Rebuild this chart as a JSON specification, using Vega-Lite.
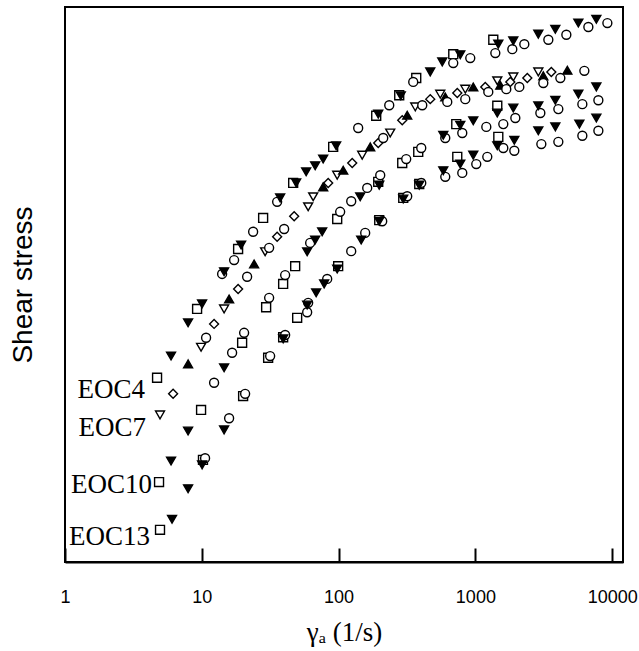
{
  "$schema": "https://vega.github.io/schema/vega-lite/v6.json",
  "width": 558,
  "height": 555,
  "autosize": "none",
  "padding": {"left": 65, "top": 7, "right": 16, "bottom": 89},
  "background": "white",
  "config": {"view": {"stroke": "black", "strokeWidth": 2}},
  "datasets": {
    "pts": [
      {"g":"EOC4","m":"sq","x":4.71,"y":33.2},{"g":"EOC4","m":"sq","x":9.24,"y":45.6},{"g":"EOC4","m":"sq","x":18.43,"y":56.4},{"g":"EOC4","m":"sq","x":28.08,"y":62.0},{"g":"EOC4","m":"sq","x":46.56,"y":68.3},{"g":"EOC4","m":"sq","x":91.3,"y":74.8},{"g":"EOC4","m":"sq","x":188.4,"y":80.4},{"g":"EOC4","m":"sq","x":277.5,"y":84.1},{"g":"EOC4","m":"sq","x":369.6,"y":87.2},{"g":"EOC4","m":"sq","x":689.2,"y":91.5},{"g":"EOC4","m":"sq","x":1352,"y":94.1},
      {"g":"EOC4","m":"circ","x":14.08,"y":51.9},{"g":"EOC4","m":"circ","x":17.23,"y":54.4},{"g":"EOC4","m":"circ","x":23.73,"y":59.5},{"g":"EOC4","m":"circ","x":35.55,"y":64.9},{"g":"EOC4","m":"circ","x":139.1,"y":78.2},{"g":"EOC4","m":"circ","x":234.6,"y":82.3},{"g":"EOC4","m":"circ","x":351.3,"y":86.5},{"g":"EOC4","m":"circ","x":689,"y":89.9},{"g":"EOC4","m":"circ","x":917.6,"y":90.8},{"g":"EOC4","m":"circ","x":1399,"y":91.7},{"g":"EOC4","m":"circ","x":1862,"y":92.4},{"g":"EOC4","m":"circ","x":2279,"y":93.3},{"g":"EOC4","m":"circ","x":3415,"y":94.1},{"g":"EOC4","m":"circ","x":4624,"y":95.0},{"g":"EOC4","m":"circ","x":6698,"y":96.4},{"g":"EOC4","m":"circ","x":9224,"y":97.1},
      {"g":"EOC4","m":"tri","x":5.96,"y":37.1},{"g":"EOC4","m":"tri","x":7.94,"y":43.1},{"g":"EOC4","m":"tri","x":10.05,"y":46.5},{"g":"EOC4","m":"tri","x":14.56,"y":52.3},{"g":"EOC4","m":"tri","x":19.39,"y":57.1},{"g":"EOC4","m":"tri","x":37.4,"y":65.6},{"g":"EOC4","m":"tri","x":48.97,"y":68.3},{"g":"EOC4","m":"tri","x":57.94,"y":70.3},{"g":"EOC4","m":"tri","x":67.43,"y":71.4},{"g":"EOC4","m":"tri","x":77.15,"y":72.6},{"g":"EOC4","m":"tri","x":96.0,"y":75.0},{"g":"EOC4","m":"tri","x":194.9,"y":80.7},{"g":"EOC4","m":"tri","x":285,"y":84.0},{"g":"EOC4","m":"tri","x":467.9,"y":88.3},{"g":"EOC4","m":"tri","x":572.7,"y":90.1},{"g":"EOC4","m":"tri","x":775.5,"y":91.4},{"g":"EOC4","m":"tri","x":1471,"y":93.3},{"g":"EOC4","m":"tri","x":1893,"y":93.9},{"g":"EOC4","m":"tri","x":2885,"y":95.1},{"g":"EOC4","m":"tri","x":3841,"y":96.0},{"g":"EOC4","m":"tri","x":5659,"y":97.1},{"g":"EOC4","m":"tri","x":7663,"y":97.8},
      {"g":"EOC7","m":"tri_open","x":4.95,"y":26.5},{"g":"EOC7","m":"tri_open","x":9.88,"y":38.7},{"g":"EOC7","m":"tri_open","x":14.56,"y":45.6},{"g":"EOC7","m":"tri_open","x":29.04,"y":55.9},{"g":"EOC7","m":"tri_open","x":59.93,"y":64.0},{"g":"EOC7","m":"tri_open","x":65.2,"y":65.8},{"g":"EOC7","m":"tri_open","x":97.7,"y":69.7},{"g":"EOC7","m":"tri_open","x":148.8,"y":73.3},{"g":"EOC7","m":"tri_open","x":238.5,"y":77.3},{"g":"EOC7","m":"tri_open","x":363.4,"y":82.0},{"g":"EOC7","m":"tri_open","x":553.6,"y":84.3},{"g":"EOC7","m":"tri_open","x":843.6,"y":85.2},{"g":"EOC7","m":"tri_open","x":1446,"y":86.7},{"g":"EOC7","m":"tri_open","x":1893,"y":87.4},{"g":"EOC7","m":"tri_open","x":2885,"y":88.3},
      {"g":"EOC7","m":"diamond","x":6.17,"y":30.3},{"g":"EOC7","m":"diamond","x":12.3,"y":42.9},{"g":"EOC7","m":"diamond","x":18.43,"y":49.2},{"g":"EOC7","m":"diamond","x":35.55,"y":58.6},{"g":"EOC7","m":"diamond","x":47.35,"y":62.3},{"g":"EOC7","m":"diamond","x":83.95,"y":68.3},{"g":"EOC7","m":"diamond","x":125.8,"y":71.9},{"g":"EOC7","m":"diamond","x":194.9,"y":75.5},{"g":"EOC7","m":"diamond","x":291.9,"y":79.6},{"g":"EOC7","m":"diamond","x":467.9,"y":83.4},{"g":"EOC7","m":"diamond","x":737.3,"y":84.5},{"g":"EOC7","m":"diamond","x":1181,"y":85.6},{"g":"EOC7","m":"diamond","x":1800,"y":86.5},{"g":"EOC7","m":"diamond","x":2397,"y":87.2},{"g":"EOC7","m":"diamond","x":3591,"y":88.3},
      {"g":"EOC7","m":"tri_up","x":7.94,"y":35.7},{"g":"EOC7","m":"tri_up","x":15.84,"y":47.4},{"g":"EOC7","m":"tri_up","x":24.13,"y":53.7},{"g":"EOC7","m":"tri_up","x":77.15,"y":67.6},{"g":"EOC7","m":"tri_up","x":108.1,"y":70.6},{"g":"EOC7","m":"tri_up","x":170.3,"y":74.8},{"g":"EOC7","m":"tri_up","x":317.5,"y":80.5},{"g":"EOC7","m":"tri_up","x":602.4,"y":83.8},{"g":"EOC7","m":"tri_up","x":965.1,"y":85.6},{"g":"EOC7","m":"tri_up","x":1521,"y":85.9},{"g":"EOC7","m":"tri_up","x":3138,"y":87.6},{"g":"EOC7","m":"tri_up","x":4703,"y":88.6},
      {"g":"EOC7","m":"circ","x":10.75,"y":40.4},{"g":"EOC7","m":"circ","x":21.45,"y":51.4},{"g":"EOC7","m":"circ","x":31.07,"y":56.6},{"g":"EOC7","m":"circ","x":40.0,"y":60.0},{"g":"EOC7","m":"circ","x":212.0,"y":76.4},{"g":"EOC7","m":"circ","x":409.0,"y":82.3},{"g":"EOC7","m":"circ","x":623.0,"y":82.9},{"g":"EOC7","m":"circ","x":843.6,"y":83.4},{"g":"EOC7","m":"circ","x":1243,"y":84.7},{"g":"EOC7","m":"circ","x":1683,"y":85.2},{"g":"EOC7","m":"circ","x":2095,"y":85.6},{"g":"EOC7","m":"circ","x":3138,"y":86.3},{"g":"EOC7","m":"circ","x":4180,"y":87.2},{"g":"EOC7","m":"circ","x":6261,"y":88.5},
      {"g":"EOC10","m":"sq","x":4.87,"y":14.4},{"g":"EOC10","m":"sq","x":9.88,"y":27.4},{"g":"EOC10","m":"sq","x":19.72,"y":39.5},{"g":"EOC10","m":"sq","x":29.54,"y":45.9},{"g":"EOC10","m":"sq","x":39.33,"y":50.1},{"g":"EOC10","m":"sq","x":48.15,"y":53.3},{"g":"EOC10","m":"sq","x":97.7,"y":61.8},{"g":"EOC10","m":"sq","x":194.9,"y":68.5},{"g":"EOC10","m":"sq","x":291.9,"y":71.9},{"g":"EOC10","m":"sq","x":382.2,"y":73.9},{"g":"EOC10","m":"sq","x":724.9,"y":78.9},{"g":"EOC10","m":"sq","x":1446,"y":82.2},
      {"g":"EOC10","m":"circ","x":12.3,"y":32.3},{"g":"EOC10","m":"circ","x":16.66,"y":37.7},{"g":"EOC10","m":"circ","x":20.39,"y":41.3},{"g":"EOC10","m":"circ","x":31.07,"y":47.6},{"g":"EOC10","m":"circ","x":40.68,"y":51.7},{"g":"EOC10","m":"circ","x":61.98,"y":57.5},{"g":"EOC10","m":"circ","x":102.7,"y":63.1},{"g":"EOC10","m":"circ","x":123.7,"y":65.0},{"g":"EOC10","m":"circ","x":161.9,"y":67.4},{"g":"EOC10","m":"circ","x":201.6,"y":69.7},{"g":"EOC10","m":"circ","x":312.2,"y":72.6},{"g":"EOC10","m":"circ","x":402.1,"y":74.6},{"g":"EOC10","m":"circ","x":602.4,"y":76.4},{"g":"EOC10","m":"circ","x":802.1,"y":77.3},{"g":"EOC10","m":"circ","x":1202,"y":78.4},{"g":"EOC10","m":"circ","x":1600,"y":78.9},{"g":"EOC10","m":"circ","x":1959,"y":80.0},{"g":"EOC10","m":"circ","x":2985,"y":80.9},{"g":"EOC10","m":"circ","x":4041,"y":81.6},{"g":"EOC10","m":"circ","x":6053,"y":82.5},{"g":"EOC10","m":"circ","x":7927,"y":83.2},
      {"g":"EOC10","m":"tri","x":5.96,"y":18.2},{"g":"EOC10","m":"tri","x":7.94,"y":23.6},{"g":"EOC10","m":"tri","x":14.56,"y":35.0},{"g":"EOC10","m":"tri","x":58.93,"y":55.9},{"g":"EOC10","m":"tri","x":67.43,"y":58.0},{"g":"EOC10","m":"tri","x":75.86,"y":59.5},{"g":"EOC10","m":"tri","x":143.9,"y":65.8},{"g":"EOC10","m":"tri","x":198.2,"y":67.9},{"g":"EOC10","m":"tri","x":582.5,"y":76.9},{"g":"EOC10","m":"tri","x":775.5,"y":78.7},{"g":"EOC10","m":"tri","x":965.1,"y":79.5},{"g":"EOC10","m":"tri","x":1446,"y":80.9},{"g":"EOC10","m":"tri","x":1893,"y":81.8},{"g":"EOC10","m":"tri","x":2885,"y":82.2},{"g":"EOC10","m":"tri","x":3841,"y":83.2},{"g":"EOC10","m":"tri","x":5659,"y":84.3},{"g":"EOC10","m":"tri","x":7663,"y":85.6},
      {"g":"EOC13","m":"sq","x":4.95,"y":5.8},{"g":"EOC13","m":"sq","x":10.2,"y":18.4},{"g":"EOC13","m":"sq","x":20.05,"y":29.9},{"g":"EOC13","m":"sq","x":30.55,"y":36.8},{"g":"EOC13","m":"sq","x":39.33,"y":40.5},{"g":"EOC13","m":"sq","x":49.8,"y":44.0},{"g":"EOC13","m":"sq","x":99.3,"y":53.3},{"g":"EOC13","m":"sq","x":198.2,"y":61.6},{"g":"EOC13","m":"sq","x":296.9,"y":65.6},{"g":"EOC13","m":"sq","x":388.7,"y":68.1},{"g":"EOC13","m":"sq","x":737.3,"y":73.0},{"g":"EOC13","m":"sq","x":1471,"y":76.6},
      {"g":"EOC13","m":"circ","x":10.57,"y":18.7},{"g":"EOC13","m":"circ","x":15.84,"y":25.9},{"g":"EOC13","m":"circ","x":20.74,"y":30.3},{"g":"EOC13","m":"circ","x":31.6,"y":37.1},{"g":"EOC13","m":"circ","x":40.68,"y":40.9},{"g":"EOC13","m":"circ","x":58.93,"y":45.0},{"g":"EOC13","m":"circ","x":59.93,"y":46.7},{"g":"EOC13","m":"circ","x":82.55,"y":51.0},{"g":"EOC13","m":"circ","x":123.7,"y":56.0},{"g":"EOC13","m":"circ","x":156.5,"y":59.3},{"g":"EOC13","m":"circ","x":208.4,"y":61.4},{"g":"EOC13","m":"circ","x":317.5,"y":65.9},{"g":"EOC13","m":"circ","x":402.1,"y":68.3},{"g":"EOC13","m":"circ","x":602.4,"y":69.4},{"g":"EOC13","m":"circ","x":802.1,"y":70.1},{"g":"EOC13","m":"circ","x":1015,"y":71.7},{"g":"EOC13","m":"circ","x":1222,"y":73.0},{"g":"EOC13","m":"circ","x":1600,"y":74.6},{"g":"EOC13","m":"circ","x":1926,"y":74.1},{"g":"EOC13","m":"circ","x":3035,"y":75.3},{"g":"EOC13","m":"circ","x":4041,"y":75.7},{"g":"EOC13","m":"circ","x":6053,"y":76.8},{"g":"EOC13","m":"circ","x":7927,"y":77.7},
      {"g":"EOC13","m":"tri","x":6.06,"y":7.7},{"g":"EOC13","m":"tri","x":7.94,"y":13.2},{"g":"EOC13","m":"tri","x":10.05,"y":17.5},{"g":"EOC13","m":"tri","x":14.56,"y":23.8},{"g":"EOC13","m":"tri","x":39.33,"y":40.2},{"g":"EOC13","m":"tri","x":58.93,"y":46.3},{"g":"EOC13","m":"tri","x":68.57,"y":48.5},{"g":"EOC13","m":"tri","x":78.46,"y":50.1},{"g":"EOC13","m":"tri","x":97.7,"y":52.8},{"g":"EOC13","m":"tri","x":146.3,"y":58.0},{"g":"EOC13","m":"tri","x":198.2,"y":61.4},{"g":"EOC13","m":"tri","x":296.9,"y":65.4},{"g":"EOC13","m":"tri","x":388.7,"y":67.9},{"g":"EOC13","m":"tri","x":582.5,"y":70.5},{"g":"EOC13","m":"tri","x":775.5,"y":71.7},{"g":"EOC13","m":"tri","x":965.1,"y":73.3},{"g":"EOC13","m":"tri","x":1446,"y":75.0},{"g":"EOC13","m":"tri","x":1926,"y":76.0},{"g":"EOC13","m":"tri","x":2885,"y":77.7},{"g":"EOC13","m":"tri","x":3841,"y":78.4},{"g":"EOC13","m":"tri","x":5755,"y":78.9},{"g":"EOC13","m":"tri","x":7663,"y":80.0}
    ],
    "labs": [
      {"label":"EOC4","x":3.85,"y":31.0},
      {"label":"EOC7","x":3.91,"y":24.1},
      {"label":"EOC10","x":4.33,"y":13.9},
      {"label":"EOC13","x":4.19,"y":4.5}
    ]
  },
  "layer": [
    {
      "data": {"name": "pts"},
      "mark": {"type": "point", "filled": true, "stroke": "black", "strokeWidth": 1.4, "size": 80, "opacity": 1},
      "encoding": {
        "x": {"field": "x", "type": "quantitative",
          "scale": {"type": "log", "domain": [1, 12000], "nice": false},
          "axis": {"values": [1, 10, 100, 1000, 10000], "format": "d", "grid": false,
            "tickSize": -14, "tickWidth": 2, "tickColor": "black", "domainColor": "black", "domainWidth": 2,
            "labelFont": "Liberation Sans", "labelFontSize": 18, "labelColor": "black", "labelPadding": 40,
            "labelFlush": false,
            "title": "γₐ (1/s)", "titleFont": "Liberation Serif", "titleFontSize": 27, "titleFontWeight": "normal",
            "titleColor": "black", "titleBaseline": "alphabetic", "titleY": 78}},
        "y": {"field": "y", "type": "quantitative",
          "scale": {"domain": [0, 100], "nice": false},
          "axis": {"labels": false, "ticks": false, "domain": false, "grid": false,
            "title": "Shear stress", "titleFont": "Liberation Sans", "titleFontSize": 28, "titleFontWeight": "normal",
            "titleColor": "black", "titlePadding": 28}},
        "shape": {"field": "m", "type": "nominal", "legend": null,
          "scale": {"domain": ["sq", "circ", "tri", "tri_up", "diamond", "tri_open"],
            "range": ["square", "circle", "triangle-down", "triangle-up", "diamond", "triangle-down"]}},
        "fill": {"field": "m", "type": "nominal", "legend": null,
          "scale": {"domain": ["sq", "circ", "tri", "tri_up", "diamond", "tri_open"],
            "range": ["white", "white", "black", "black", "white", "white"]}}
      }
    },
    {
      "data": {"name": "labs"},
      "mark": {"type": "text", "align": "right", "baseline": "middle", "font": "Liberation Serif", "fontSize": 27, "color": "black"},
      "encoding": {
        "x": {"field": "x", "type": "quantitative"},
        "y": {"field": "y", "type": "quantitative"},
        "text": {"field": "label"}
      }
    }
  ]
}
